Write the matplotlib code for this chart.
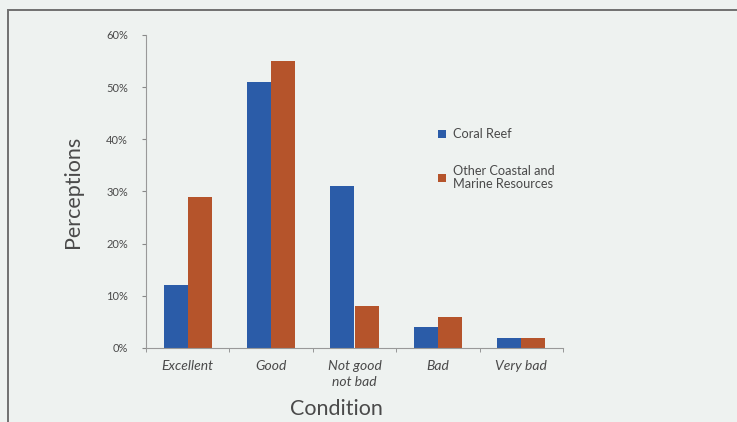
import matplotlib
matplotlib.use("Agg")
import matplotlib.pyplot as plt
from matplotlib.patches import Rectangle
import numpy as np

categories = ["Excellent", "Good", "Not good\nnot bad", "Bad", "Very bad"]
coral_reef = [12, 51, 31, 4, 2]
other_coastal = [29, 55, 8, 6, 2]
series_labels = ["Coral Reef", "Other Coastal and\nMarine Resources"]
y_ticks = [0, 10, 20, 30, 40, 50, 60]

bg = "#eef2f0"
blue = "#2b5ca8"
orange = "#b5542b"
text_col = "#4a4a4a"

plt.rcParams["font.family"] = ["Lato", "DejaVu Sans"]

fig = plt.figure(figsize=(7.37, 4.22), dpi=100, facecolor=bg)
ax = fig.add_axes([146 / 737, 1 - 348 / 422, 417 / 737, 313 / 422], facecolor=bg)

x = np.arange(len(categories))
w = 0.29
b1 = ax.bar(x - w / 2, coral_reef, width=w, color=blue, label=series_labels[0])
b2 = ax.bar(x + w / 2, other_coastal, width=w, color=orange, label=series_labels[1])

ax.set_xlim(-0.5, len(categories) - 0.5)
ax.set_ylim(0, 60)
ax.set_yticks(y_ticks)
ax.set_yticklabels([f"{t}%" for t in y_ticks])
ax.set_xticks(x)
ax.set_xticklabels(categories, style="italic", fontsize=10, color=text_col, linespacing=1.3)
ax.set_xticks(np.arange(-0.5, len(categories)), minor=True)
ax.tick_params(axis="x", which="major", length=0, pad=9)
ax.tick_params(axis="x", which="minor", length=3, color="#888888")
ax.tick_params(axis="y", length=3, color="#888888", pad=10, labelsize=8, labelcolor=text_col)

for s in ["top", "right"]:
    ax.spines[s].set_visible(False)
for s in ["left", "bottom"]:
    ax.spines[s].set_color("#999999")
    ax.spines[s].set_linewidth(0.8)

ax.set_ylabel("Perceptions", fontsize=15.5, color=text_col)
ax.yaxis.set_label_coords((83 - 146) / 417, 0.5)
ax.set_xlabel("Condition", fontsize=15.5, color=text_col)
ax.xaxis.set_label_coords((336 - 146) / 417, (348 - 399) / 313)

leg = ax.legend(handles=[b1, b2], loc="upper left",
                bbox_to_anchor=(432 / 737, 1 - 122 / 422),
                bbox_transform=fig.transFigure, frameon=False,
                fontsize=9.2, handlelength=0.6, handleheight=0.6,
                handletextpad=0.55, labelspacing=1.9, borderpad=0)
for t in leg.get_texts():
    t.set_color(text_col)
    t.set_linespacing(1.1)

# outer frame of the panel
fig.patches.append(Rectangle((8 / 737, -0.05), 1.2, 1 - 9.5 / 422 + 0.05,
                             transform=fig.transFigure, fill=False,
                             edgecolor="#707070", linewidth=1.4))

fig.savefig("out.png", dpi=100, facecolor=bg)
